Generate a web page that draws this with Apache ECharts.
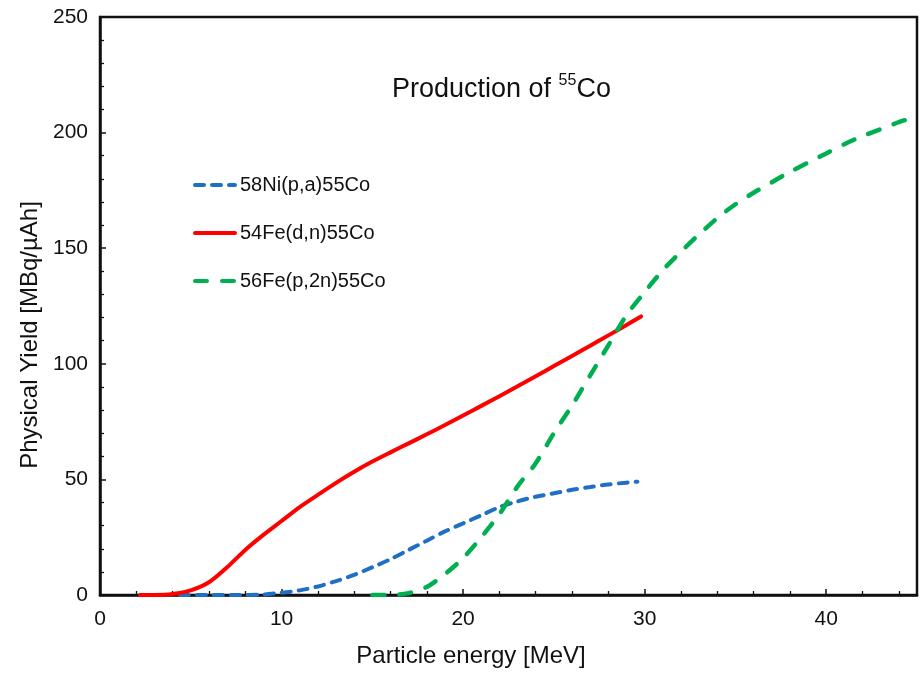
<!DOCTYPE html>
<html>
<head>
<meta charset="utf-8">
<script src="https://cdn.jsdelivr.net/npm/echarts@6/dist/echarts.min.js"></script>
<style>
html,body{margin:0;padding:0;background:#fff;}
#chart{width:921px;height:678px;}
</style>
</head>
<body>
<div id="chart"></div>
<script>
// ---- data ----
const seriesNames = ['58Ni(p,a)55Co', '54Fe(d,n)55Co', '56Fe(p,2n)55Co'];

const niX = [4.4, 6, 8, 9, 10, 11, 12, 13, 14, 15, 16, 17, 18, 19, 20, 21, 22, 23, 24, 25, 26, 27, 28, 29, 29.6];
const niY = [0, 0, 0, 0.2, 1, 2, 3.7, 6, 8.7, 12, 15.5, 19.5, 23.5, 27.5, 31, 34.5, 38, 40.5, 42.5, 44, 45.5, 46.7, 47.8, 48.6, 49];

const feDX = [2.2, 3, 4, 5, 6, 7, 8, 9, 10, 11, 12, 13, 14, 15, 16, 17, 18, 19, 20, 21, 22, 23, 24, 25, 26, 27, 28, 29, 29.8];
const feDY = [0, 0, 0.4, 2, 5.5, 12, 19.5, 26, 32, 38, 43.3, 48.5, 53.3, 57.7, 61.7, 65.6, 69.5, 73.5, 77.6, 81.8, 86, 90.3, 94.6, 99, 103.4, 107.8, 112.3, 116.8, 120.5];

const fePX = [15, 16, 17, 18, 19, 20, 21, 22, 23, 24, 25, 26, 27, 28, 29, 30, 31, 32, 33, 34, 35, 36, 37, 38, 39, 40, 41, 42, 43, 44, 45];
const fePY = [0, 0, 0.8, 3.5, 9, 16, 25, 35, 47, 57, 70, 82, 95, 108, 121, 131, 140.5, 148.5, 156, 163, 169, 174, 178.5, 183, 187, 191, 195, 198.5, 201.5, 204.5, 207];

const xTicks = [0, 10, 20, 30, 40];
const yTicks = [0, 50, 100, 150, 200, 250];

const pairs = (xs, ys) => xs.map((x, i) => [x, ys[i]]);

const FONT = 'Arial, "Liberation Sans", sans-serif';
const chart = echarts.init(document.getElementById('chart'), null, {renderer: 'canvas'});

chart.setOption({
  animation: false,
  backgroundColor: '#fff',
  title: {
    left: 392,
    top: 73,
    padding: 0,
    text: '{a|Production of }{s|55}{a|Co}',
    textStyle: {
      fontFamily: FONT,
      fontWeight: 'normal',
      rich: {
        a: {fontSize: 27, fontFamily: FONT, fontWeight: 'normal', color: '#111', lineHeight: 30, verticalAlign: 'bottom'},
        s: {fontSize: 16, fontFamily: FONT, fontWeight: 'normal', color: '#111', lineHeight: 30, verticalAlign: 'top'}
      }
    }
  },
  legend: {
    orient: 'vertical',
    left: 188,
    top: 170,
    itemWidth: 40,
    itemHeight: 14,
    itemGap: 28,
    data: seriesNames,
    itemStyle: {opacity: 0},
    lineStyle: {width: 4},
    textStyle: {fontFamily: FONT, fontSize: 20, color: '#111'}
  },
  grid: {
    left: 100, right: 4, top: 17, bottom: 83,
    show: true, borderColor: '#111', borderWidth: 2.5, containLabel: false
  },
  xAxis: {
    type: 'value',
    min: 0, max: 45, interval: 10,
    name: 'Particle energy [MeV]',
    nameLocation: 'middle',
    nameGap: 49,
    nameTextStyle: {fontFamily: FONT, fontSize: 24, color: '#111', padding: [0, 75, 0, 0]},
    axisLine: {show: true, lineStyle: {color: '#111', width: 2.5}},
    axisTick: {show: true, inside: true, length: 6, lineStyle: {color: '#111', width: 1.5}},
    minorTick: {show: true, splitNumber: 5, length: 4, lineStyle: {color: '#111', width: 1.3}},
    axisLabel: {
      fontFamily: FONT, fontSize: 21, color: '#111', margin: 14,
      formatter: v => xTicks.includes(v) ? String(v) : ''
    },
    splitLine: {show: false}
  },
  yAxis: {
    type: 'value',
    min: 0, max: 250, interval: 50,
    name: 'Physical Yield [MBq/\u00b5Ah]',
    nameLocation: 'middle',
    nameGap: 57,
    nameTextStyle: {fontFamily: FONT, fontSize: 24, color: '#111', padding: [0, 58, 0, 0]},
    axisLine: {show: true, lineStyle: {color: '#111', width: 2.5}},
    axisTick: {show: true, inside: true, length: 6, lineStyle: {color: '#111', width: 1.5}},
    minorTick: {show: true, splitNumber: 5, length: 4, lineStyle: {color: '#111', width: 1.3}},
    axisLabel: {
      fontFamily: FONT, fontSize: 21, color: '#111', margin: 12,
      formatter: v => yTicks.includes(v) ? String(v) : ''
    },
    splitLine: {show: false}
  },
  series: [
    {
      name: seriesNames[0], type: 'line', smooth: 0.3, showSymbol: false, symbol: 'none',
      data: pairs(niX, niY),
      lineStyle: {color: '#1f6fc4', width: 4, type: [9, 8], cap: 'round'},
      itemStyle: {color: '#1f6fc4'}, z: 3
    },
    {
      name: seriesNames[1], type: 'line', smooth: 0.3, showSymbol: false, symbol: 'none',
      data: pairs(feDX, feDY),
      lineStyle: {color: '#ff0000', width: 4, type: 'solid', cap: 'round'},
      itemStyle: {color: '#ff0000'}, z: 4
    },
    {
      name: seriesNames[2], type: 'line', smooth: 0.3, showSymbol: false, symbol: 'none',
      data: pairs(fePX, fePY),
      lineStyle: {color: '#00b050', width: 4.5, type: [12, 15], cap: 'round'},
      itemStyle: {color: '#00b050'}, z: 5
    }
  ]
});
</script>
</body>
</html>
